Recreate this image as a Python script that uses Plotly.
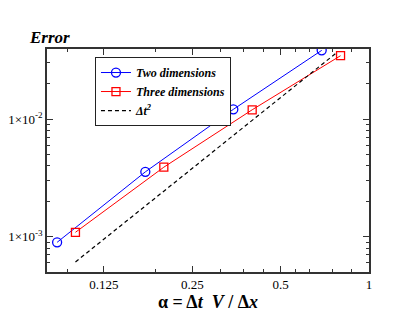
import plotly.graph_objects as go
import math

# Data
two_x = [0.0866, 0.173, 0.345, 0.69]
two_err = [8.96e-4, 3.56e-3, 1.21e-2, 3.84e-2]
three_x = [0.1, 0.2, 0.4, 0.8]
three_err = [1.09e-3, 3.9e-3, 1.2e-2, 3.46e-2]
ref_x = [0.1, 0.78]
ref_err = [6.1e-4, 3.71e-2]

x_tickvals = [0.125, 0.25, 0.5, 1]
x_ticktext = ["0.125", "0.25", "0.5", "1"]
x_minor = [0.09375, 0.1875, 0.3125, 0.375, 0.4375, 0.5625, 0.625, 0.75, 0.875]
y_tickvals = [1e-3, 1e-2]
y_ticktext = ["1×10<sup>-3</sup>", "1×10<sup>-2</sup>"]
y_minor = [m * 10 ** e for e in (-4, -3, -2) for m in range(2, 10)]

FONT = "Liberation Serif"

fig = go.Figure()
fig.add_trace(go.Scatter(
    x=two_x, y=two_err, mode="lines+markers",
    name="Two dimensions",
    line=dict(color="#0000ff", width=1),
    marker=dict(symbol="circle-open", size=9, color="#0000ff", line=dict(width=1.3)),
))
fig.add_trace(go.Scatter(
    x=three_x, y=three_err, mode="lines+markers",
    name="Three dimensions",
    line=dict(color="#ff0000", width=1),
    marker=dict(symbol="square-open", size=8, color="#ff0000", line=dict(width=1.3)),
))
fig.add_trace(go.Scatter(
    x=ref_x, y=ref_err, mode="lines",
    name="Δt<sup>2</sup>",
    line=dict(color="black", width=1.2, dash="4px,3px"),
))

axis_common = dict(
    type="log", showgrid=False, zeroline=False, automargin=False,
    showline=True, linecolor="#333333", linewidth=1.5, mirror="allticks",
    ticks="inside", ticklen=6, tickcolor="#333333", tickwidth=1,
    tickfont=dict(family=FONT, size=13, color="black"),
)

fig.update_xaxes(
    **axis_common,
    range=[math.log10(0.0800), 0],
    tickmode="array", tickvals=x_tickvals, ticktext=x_ticktext,
    minor=dict(tickmode="array", tickvals=x_minor, ticks="inside", ticklen=3,
               tickcolor="#333333", tickwidth=1, showgrid=False),
    title=dict(text="α = Δ<i>t</i>  <i>V</i> / Δ<i>x</i>",
               font=dict(family=FONT, size=18, color="black", weight="bold"), standoff=0),
)
fig.update_yaxes(
    **axis_common,
    range=[-3.30, -1.404],
    tickmode="array", tickvals=y_tickvals, ticktext=y_ticktext,
    minor=dict(tickmode="array", tickvals=y_minor, ticks="inside", ticklen=3,
               tickcolor="#333333", tickwidth=1, showgrid=False),
)

fig.add_annotation(
    x=-0.062, y=1.05, xref="paper", yref="paper", xanchor="left", yanchor="middle",
    text="Error", showarrow=False,
    font=dict(family=FONT, size=17, color="black", weight="bold", style="italic"),
)

# The page body has an 8px margin, so the figure is shrunk by 8px on the
# left/top to keep the plot area in the same place as the reference.
fig.update_layout(
    width=407, height=313,
    margin=dict(l=39, r=46, t=41, b=49),
    paper_bgcolor="white", plot_bgcolor="white",
    showlegend=True,
    legend=dict(
        x=0.149, y=0.964, xanchor="left", yanchor="top",
        bgcolor="white", bordercolor="#222222", borderwidth=1,
        font=dict(family=FONT, size=12, color="black", weight="bold", style="italic"),
        tracegroupgap=0, itemwidth=30,
    ),
)

fig.write_html("out.html")
